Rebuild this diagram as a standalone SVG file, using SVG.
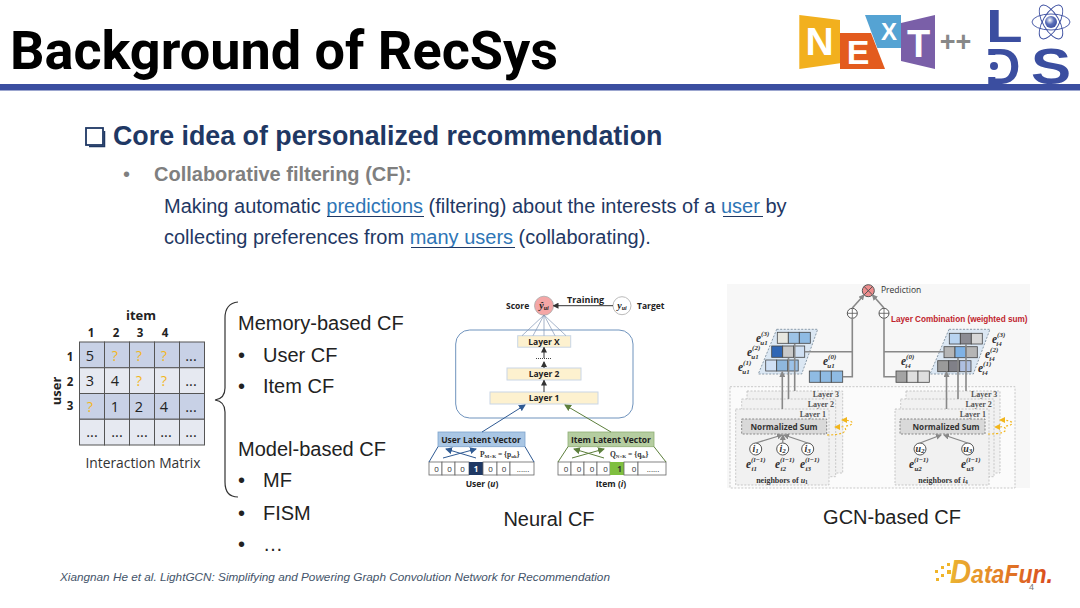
<svg xmlns="http://www.w3.org/2000/svg" width="1080" height="608" viewBox="0 0 1080 608">
<style>
text{font-family:"Liberation Sans",Arial,sans-serif;fill:#222}
.bar{fill:#3b4ea0}
.body{font-size:20px;fill:#1f3864}
.lnk{fill:#2e75b6}
.ul{stroke:#1f3864;stroke-width:1.2}
.cf{font-size:20px;fill:#222}
.cap{font-size:20px;fill:#222}
.m{font-family:"Open Sans",sans-serif;font-size:14.5px;text-anchor:middle;fill:#222}
.mb{font-family:"Open Sans",sans-serif;font-size:11.5px;font-weight:700;text-anchor:middle;fill:#222}
.dk{fill:#c8d1e6;stroke:#555;stroke-width:1}
.lt{fill:#e6e9f1;stroke:#555;stroke-width:1}
.ly{fill:#fdf1cf;stroke:#c9d6e6;stroke-width:1}
.lyt{font-family:"Open Sans",sans-serif;font-size:8.5px;font-weight:700;text-anchor:middle;fill:#222}
.vc{fill:#fff;stroke:#666;stroke-width:.8}
.vt{font-family:"Open Sans",sans-serif;font-size:8px;text-anchor:middle;fill:#333}
.blue{stroke:#2f5a93;stroke-width:1;fill:none}
.grn{stroke:#5d7f3c;stroke-width:1;fill:none}
.fan{stroke:#7f93b3;stroke-width:.7;fill:none}
.g{stroke:#888;stroke-width:1.6;fill:none}
.gt{stroke:#888;stroke-width:1.3;fill:none}
.sheet{fill:#f1f1f1;stroke:#bbb;stroke-width:.8;stroke-dasharray:2 1.5}
.ns{fill:#d9d9d9;stroke:#888;stroke-width:1;stroke-dasharray:2 1.5}
.cell{stroke:#444;stroke-width:.8}
.par{stroke:#8a9aa8;stroke-width:1;stroke-dasharray:2 1.5;fill:#dbe7f3}
.oc{fill:#fff;stroke:#555;stroke-width:1}
.y{stroke:#f2b61e;stroke-width:1.2;stroke-dasharray:2 2;fill:none}
.em{font-family:"Liberation Serif",serif;font-weight:700;font-style:italic;font-size:11.5px;fill:#333}
.em tspan{font-size:7px}
.gl{font-family:"Liberation Serif",serif;font-size:8px;font-weight:700;fill:#555;text-anchor:end}
.ns-t{font-family:"Open Sans",sans-serif;font-size:9px;font-weight:700;text-anchor:middle;fill:#333}
.logo{fill:#3b4ea0;font-weight:700}
.wl{fill:#fff;font-weight:700;text-anchor:middle}
</style>
<defs>
<marker id="abk" markerWidth="6" markerHeight="6" refX="5" refY="3" orient="auto" markerUnits="userSpaceOnUse"><path d="M0 0L6 3L0 6z" fill="#333"/></marker>
<marker id="abl" markerWidth="7" markerHeight="7" refX="6" refY="3.5" orient="auto" markerUnits="userSpaceOnUse"><path d="M0 0L7 3.5L0 7z" fill="#2f5a93"/></marker>
<marker id="agr" markerWidth="7" markerHeight="7" refX="6" refY="3.5" orient="auto" markerUnits="userSpaceOnUse"><path d="M0 0L7 3.5L0 7z" fill="#5d7f3c"/></marker>
<marker id="agy" markerWidth="6" markerHeight="6" refX="5" refY="3" orient="auto" markerUnits="userSpaceOnUse"><path d="M0 0L6 3L0 6z" fill="#888"/></marker>
<marker id="ayl" markerWidth="6" markerHeight="6" refX="5" refY="3" orient="auto" markerUnits="userSpaceOnUse"><path d="M0 0L6 3L0 6z" fill="#f2b61e"/></marker>
<linearGradient id="df" x1="0" x2="1" y1="0" y2="0"><stop offset="0" stop-color="#ecb431"/><stop offset="1" stop-color="#d9481e"/></linearGradient>
<radialGradient id="at" cx=".4" cy=".35" r=".7"><stop offset="0" stop-color="#fff"/><stop offset=".5" stop-color="#5a6fb8"/><stop offset="1" stop-color="#3b4ea0"/></radialGradient>
</defs>
<rect width="1080" height="608" fill="#fff"/>

<g id="header">
<text x="10" y="69" font-size="53" font-weight="700" textLength="548" lengthAdjust="spacingAndGlyphs" style="font-family:Roboto,sans-serif;fill:#000">Background of RecSys</text>
<rect class="bar" x="0" y="84" width="1080" height="6.5"/>
</g>

<g id="logo-next">
<polygon points="799.3,15 840,20 840,63.3 799.3,69" fill="#f2b01e"/>
<polygon points="840,33 871,33 885,69 840,69" fill="#e35b1e"/>
<polygon points="865,15 901,15 901,48 877.3,48" fill="#55a3d3"/>
<polygon points="901,23 935,15 935,69 901,61" fill="#7a5fa8"/>
<text class="wl" x="819.500" y="55" font-size="39" style="fill:#fff">N</text>
<text class="wl" x="858" y="64" font-size="34" style="fill:#fff">E</text>
<text class="wl" x="889" y="40" font-size="24" style="fill:#fff">X</text>
<text class="wl" x="918.500" y="57" font-size="38" style="fill:#fff">T</text>
<text x="955.500" y="51" font-size="27" font-weight="700" text-anchor="middle" style="fill:#888">++</text>
</g>

<g id="logo-lds">
<text class="logo" transform="translate(986 42) scale(1.25 .955)" font-size="48" style="fill:#3b4ea0">L</text>
<text class="logo" transform="translate(985 84) scale(1.02 1.05)" font-size="48" style="fill:#3b4ea0">D</text>
<rect x="985" y="55" width="13" height="22" fill="#fff"/>
<circle cx="994" cy="66" r="4" fill="#3b4ea0"/>
<text class="logo" transform="translate(1031 83.500) scale(1.25 1.03)" font-size="48" style="fill:#3b4ea0">S</text>
<g fill="none" stroke="#3b4ea0" stroke-width=".9">
<ellipse cx="1051" cy="22" rx="19" ry="8"/>
<ellipse cx="1051" cy="22" rx="19" ry="8" transform="rotate(60 1051 22)"/>
<ellipse cx="1051" cy="22" rx="19" ry="8" transform="rotate(120 1051 22)"/>
</g>
<circle cx="1051" cy="22" r="6" fill="url(#at)"/>
</g>

<g id="core-text">
<rect x="86" y="128" width="17" height="17" fill="none" stroke="#1f3864" stroke-width="1.8"/>
<path d="M104.500 131V146.500H89" fill="none" stroke="#1f3864" stroke-width="1.500"/>
<text x="113" y="145" font-size="26.800" font-weight="700" style="fill:#1f3864">Core idea of personalized recommendation</text>
<text x="123" y="181" font-size="20" style="fill:#7f7f7f">•</text>
<text x="154" y="181" font-size="20" font-weight="700" style="fill:#7f7f7f">Collaborative filtering (CF):</text>
<text class="body" x="164" y="213">Making automatic <tspan class="lnk">predictions</tspan> (filtering) about the interests of a <tspan class="lnk">user</tspan> by</text>
<text class="body" x="164" y="244">collecting preferences from <tspan class="lnk">many users</tspan> (collaborating).</text>
<line class="ul" x1="327" y1="216.500" x2="424" y2="216.500"/>
<line class="ul" x1="723" y1="216.500" x2="763" y2="216.500"/>
<line class="ul" x1="411" y1="247.500" x2="515" y2="247.500"/>
</g>

<g id="interaction-matrix">
<g>
<rect class="dk" x="79.500" y="342" width="25" height="25.750"/><rect class="dk" x="104.500" y="342" width="25" height="25.750"/><rect class="dk" x="129.500" y="342" width="25" height="25.750"/><rect class="dk" x="154.500" y="342" width="25" height="25.750"/><rect class="dk" x="179.500" y="342" width="25" height="25.750"/>
<rect class="lt" x="79.500" y="367.750" width="25" height="25.750"/><rect class="lt" x="104.500" y="367.750" width="25" height="25.750"/><rect class="lt" x="129.500" y="367.750" width="25" height="25.750"/><rect class="lt" x="154.500" y="367.750" width="25" height="25.750"/><rect class="lt" x="179.500" y="367.750" width="25" height="25.750"/>
<rect class="dk" x="79.500" y="393.500" width="25" height="25.750"/><rect class="dk" x="104.500" y="393.500" width="25" height="25.750"/><rect class="dk" x="129.500" y="393.500" width="25" height="25.750"/><rect class="dk" x="154.500" y="393.500" width="25" height="25.750"/><rect class="dk" x="179.500" y="393.500" width="25" height="25.750"/>
<rect class="lt" x="79.500" y="419.250" width="25" height="25.750"/><rect class="lt" x="104.500" y="419.250" width="25" height="25.750"/><rect class="lt" x="129.500" y="419.250" width="25" height="25.750"/><rect class="lt" x="154.500" y="419.250" width="25" height="25.750"/><rect class="lt" x="179.500" y="419.250" width="25" height="25.750"/>
</g>
<text class="mb" x="141" y="320" style="font-size:13px">item</text>
<text class="mb" x="91" y="337">1</text><text class="mb" x="116" y="337">2</text><text class="mb" x="140" y="337">3</text><text class="mb" x="165" y="337">4</text>
<text class="mb" x="70" y="361">1</text><text class="mb" x="70" y="386">2</text><text class="mb" x="70" y="410">3</text>
<text class="mb" x="61" y="391" transform="rotate(-90 61 391)" style="font-size:13px">user</text>
<text class="m" x="90" y="361">5</text><text class="m" x="115" y="361" style="fill:#f2b61e">?</text><text class="m" x="139" y="361" style="fill:#f2b61e">?</text><text class="m" x="164" y="361" style="fill:#f2b61e">?</text><text class="m" x="191" y="361">...</text>
<text class="m" x="90" y="386">3</text><text class="m" x="115" y="386">4</text><text class="m" x="139" y="386" style="fill:#f2b61e">?</text><text class="m" x="164" y="386" style="fill:#f2b61e">?</text><text class="m" x="191" y="386">...</text>
<text class="m" x="90" y="412" style="fill:#f2b61e">?</text><text class="m" x="115" y="412">1</text><text class="m" x="139" y="412">2</text><text class="m" x="164" y="412">4</text><text class="m" x="191" y="412">...</text>
<text class="m" x="92" y="437">...</text><text class="m" x="117" y="437">...</text><text class="m" x="142" y="437">...</text><text class="m" x="166" y="437">...</text><text class="m" x="191" y="437">...</text>
<text x="143" y="468" text-anchor="middle" font-size="13.800" style="font-family:'Open Sans',sans-serif;fill:#333">Interaction Matrix</text>
</g>

<g id="cf-taxonomy">
<path d="M238 302C229 303 225 308 225 318V388C225 395 222 399 215 400C222 401 225 405 225 412V482C225 492 229 497 238 497" fill="none" stroke="#333" stroke-width="1.200"/>
<text class="cf" x="238" y="330">Memory-based CF</text>
<text class="cf" x="238" y="362">•</text><text class="cf" x="263" y="362">User CF</text>
<text class="cf" x="238" y="393">•</text><text class="cf" x="263" y="393">Item CF</text>
<text class="cf" x="238" y="456">Model-based CF</text>
<text class="cf" x="238" y="487">•</text><text class="cf" x="263" y="487">MF</text>
<text class="cf" x="238" y="520">•</text><text class="cf" x="263" y="520">FISM</text>
<text class="cf" x="238" y="551">•</text><text class="cf" x="263" y="551">…</text>
</g>

<g id="neural-cf">
<g id="ncf-score"><circle cx="544" cy="305.700" r="9.500" fill="#f4a6a6" stroke="#aaa" stroke-width=".8"/>
<text x="544" y="309" font-size="10" text-anchor="middle" style="font-family:'Liberation Serif',serif;font-weight:700;font-style:italic;fill:#222">ŷ<tspan font-size="6" dy="1">ui</tspan></text>
<text x="506" y="309" font-size="8.500" font-weight="700" style="font-family:'Open Sans',sans-serif">Score</text>
<text x="567" y="303" font-size="9" font-weight="700" style="font-family:'Open Sans',sans-serif">Training</text></g>
<g id="ncf-target"><circle cx="622" cy="305.700" r="9" fill="#fff" stroke="#bbb"/>
<text x="622" y="309" font-size="10" text-anchor="middle" style="font-family:'Liberation Serif',serif;font-weight:700;font-style:italic;fill:#222">y<tspan font-size="6" dy="1">ui</tspan></text>
<text x="637" y="309" font-size="8.500" font-weight="700" style="font-family:'Open Sans',sans-serif">Target</text></g>
<rect x="455.700" y="330" width="177.300" height="88" rx="14" fill="none" stroke="#6f93bd" stroke-width="1"/>
<g id="ncf-layerx"><rect class="ly" x="517.700" y="335.700" width="53" height="11.500"/><text class="lyt" x="544" y="344.500">Layer X</text></g>
<line x1="536" y1="358.500" x2="552" y2="358.500" stroke="#444" stroke-dasharray="1 1"/>
<g id="ncf-layer2"><rect class="ly" x="507" y="368" width="74" height="12"/><text class="lyt" x="544" y="377">Layer 2</text></g>
<g id="ncf-layer1"><rect class="ly" x="490" y="392" width="108" height="12"/><text class="lyt" x="544" y="401">Layer 1</text></g>
<g id="ncf-user-latent"><rect x="438" y="432" width="87" height="14.700" fill="#a9c6e4" stroke="#7ea3cc" stroke-width=".8"/><text class="lyt" x="481" y="442.500">User Latent Vector</text>
<text x="480" y="457" font-size="7.500" style="font-family:'Liberation Serif',serif;font-weight:700;fill:#333">P<tspan font-size="5" dy="1">M×K</tspan><tspan dy="-1"> = {p</tspan><tspan font-size="5" dy="1">uk</tspan><tspan dy="-1">}</tspan></text></g>
<g id="ncf-user-vector">
<rect class="vc" x="429" y="462" width="13" height="13"/><rect class="vc" x="442" y="462" width="13" height="13"/><rect class="vc" x="455" y="462" width="14" height="13"/><rect x="469" y="462" width="14" height="13" fill="#1f3864"/><rect class="vc" x="483" y="462" width="14" height="13"/><rect class="vc" x="497" y="462" width="13" height="13"/><rect class="vc" x="510" y="462" width="24" height="13"/>
<text class="vt" x="436.500" y="471.500">0</text><text class="vt" x="449.500" y="471.500">0</text><text class="vt" x="462.500" y="471.500">0</text><text class="vt" x="476" y="471.500" style="fill:#fff;font-weight:700">1</text><text class="vt" x="490.500" y="471.500">0</text><text class="vt" x="504" y="471.500">0</text><text class="vt" x="523" y="471.500">......</text>
<text class="lyt" x="482" y="487">User (<tspan font-style="italic">u</tspan>)</text></g>
<g id="ncf-item-latent"><rect x="568" y="432" width="86" height="14.700" fill="#b5cda0" stroke="#8fae74" stroke-width=".8"/><text class="lyt" x="611" y="442.500">Item Latent Vector</text>
<text x="610" y="457" font-size="7.500" style="font-family:'Liberation Serif',serif;font-weight:700;fill:#333">Q<tspan font-size="5" dy="1">N×K</tspan><tspan dy="-1"> = {q</tspan><tspan font-size="5" dy="1">ik</tspan><tspan dy="-1">}</tspan></text></g>
<g id="ncf-item-vector">
<rect class="vc" x="558" y="462" width="13" height="13"/><rect class="vc" x="571" y="462" width="13" height="13"/><rect class="vc" x="584" y="462" width="13" height="13"/><rect class="vc" x="597" y="462" width="13" height="13"/><rect x="610" y="462" width="14" height="13" fill="#7fbf3f"/><rect class="vc" x="624" y="462" width="14" height="13"/><rect class="vc" x="638" y="462" width="28" height="13"/>
<text class="vt" x="566" y="471.500">0</text><text class="vt" x="579" y="471.500">0</text><text class="vt" x="592" y="471.500">0</text><text class="vt" x="605.500" y="471.500">0</text><text class="vt" x="619.500" y="471.500" style="font-weight:700">1</text><text class="vt" x="634" y="471.500">0</text><text class="vt" x="653" y="471.500">......</text>
<text class="lyt" x="611" y="487">Item (<tspan font-style="italic">i</tspan>)</text></g>
<text class="cap" x="549" y="526" text-anchor="middle">Neural CF</text>
</g>

<g id="gcn-cf">
<rect x="727" y="284" width="303" height="204" fill="#f7f7f7"/>
<rect x="730" y="386.700" width="285" height="101.300" fill="#fbfbfb" stroke="#bbb" stroke-width=".8" stroke-dasharray="2 1.500"/>
<g id="gcn-stack-left">
<rect class="sheet" x="747" y="391" width="95.700" height="82"/>
<rect class="sheet" x="741.700" y="399" width="94" height="77.700"/>
<rect class="sheet" x="735.700" y="409" width="93.300" height="76"/>
<text class="gl" x="839" y="397">Layer 3</text><text class="gl" x="834" y="406.700">Layer 2</text><text class="gl" x="826" y="416.700">Layer 1</text>
<rect class="ns" x="741.700" y="419" width="85" height="15"/>
<text class="ns-t" x="784" y="430" textLength="67" lengthAdjust="spacingAndGlyphs">Normalized Sum</text>
<circle class="oc" cx="755.700" cy="449" r="6"/><circle class="oc" cx="782.700" cy="449" r="6"/><circle class="oc" cx="807.700" cy="449" r="6"/>
<text class="em" x="755.700" y="452" text-anchor="middle" style="font-size:10px">i<tspan dy="1">1</tspan></text><text class="em" x="782.700" y="452" text-anchor="middle" style="font-size:10px">i<tspan dy="1">2</tspan></text><text class="em" x="807.700" y="452" text-anchor="middle" style="font-size:10px">i<tspan dy="1">3</tspan></text>
<text class="em" x="746" y="468">e<tspan dy="-6">(l−1)</tspan><tspan dx="-14" dy="9">i1</tspan></text>
<text class="em" x="775" y="468">e<tspan dy="-6">(l−1)</tspan><tspan dx="-14" dy="9">i2</tspan></text>
<text class="em" x="800" y="468">e<tspan dy="-6">(l−1)</tspan><tspan dx="-14" dy="9">i3</tspan></text>
<text x="782" y="483" font-size="8" text-anchor="middle" style="font-family:'Liberation Serif',serif;font-weight:700;fill:#333">neighbors of <tspan font-style="italic">u</tspan><tspan font-size="5.500" dy="1">1</tspan></text>
</g>
<g id="gcn-stack-right">
<rect class="sheet" x="906" y="391" width="94" height="82"/>
<rect class="sheet" x="900.700" y="399" width="93.300" height="77.700"/>
<rect class="sheet" x="895" y="409" width="94" height="76"/>
<text class="gl" x="997.300" y="397">Layer 3</text><text class="gl" x="991.700" y="406.700">Layer 2</text><text class="gl" x="986" y="416.700">Layer 1</text>
<rect class="ns" x="900" y="419" width="85" height="15"/>
<text class="ns-t" x="946" y="430" textLength="67" lengthAdjust="spacingAndGlyphs">Normalized Sum</text>
<circle class="oc" cx="920" cy="449" r="6"/><circle class="oc" cx="967.700" cy="449" r="6"/>
<text class="em" x="920" y="452" text-anchor="middle" style="font-size:10px">u<tspan dy="1">2</tspan></text><text class="em" x="967.700" y="452" text-anchor="middle" style="font-size:10px">u<tspan dy="1">3</tspan></text>
<text class="em" x="909" y="468">e<tspan dy="-6">(l−1)</tspan><tspan dx="-14" dy="9">u2</tspan></text>
<text class="em" x="961" y="468">e<tspan dy="-6">(l−1)</tspan><tspan dx="-14" dy="9">u3</tspan></text>
<text x="943" y="483" font-size="8" text-anchor="middle" style="font-family:'Liberation Serif',serif;font-weight:700;fill:#333">neighbors of <tspan font-style="italic">i</tspan><tspan font-size="5.500" dy="1">4</tspan></text>
</g>
<g id="gcn-feedback">
<path class="y" d="M827 435C840 435 848 432 845 428C843 426 840 427 835 427" marker-end="url(#ayl)"/>
<path class="y" d="M846 426C855 425 855 420 842 420" marker-end="url(#ayl)"/>
<path class="y" d="M988 434C1000 434 1008 432 1005 428C1003 426 1000 427 995 427" marker-end="url(#ayl)"/>
<path class="y" d="M1006 426C1015 425 1015 420 1000 420" marker-end="url(#ayl)"/>
</g>
<g id="gcn-embed-left">
<polygon class="par" points="776.700,329.300 817.700,329.300 801.700,374 758.300,374"/>
<g class="cell"><rect x="777.300" y="332.300" width="11" height="11" fill="#e7e7e0"/><rect x="788.300" y="332.300" width="11" height="11" fill="#9dc3e6"/><rect x="799.300" y="332.300" width="11" height="11" fill="#8fbbe3"/>
<rect x="771.700" y="346" width="11" height="11.300" fill="#2f66b5"/><rect x="782.700" y="346" width="11" height="11.300" fill="#c9c9c9"/><rect x="793.700" y="346" width="11" height="11.300" fill="#cfdff2"/>
<rect x="765.700" y="360" width="11" height="11" fill="#cfe0f5"/><rect x="776.700" y="360" width="11" height="11" fill="#8fb8de"/><rect x="787.700" y="360" width="10.500" height="11" fill="#9cc2e8"/></g>
<text class="em" x="756" y="342">e<tspan dy="-6">(3)</tspan><tspan dx="-9" dy="9">u1</tspan></text>
<text class="em" x="747" y="356">e<tspan dy="-6">(2)</tspan><tspan dx="-9" dy="9">u1</tspan></text>
<text class="em" x="738" y="371">e<tspan dy="-6">(1)</tspan><tspan dx="-9" dy="9">u1</tspan></text>
</g>
<g id="gcn-e0-left">
<g class="cell"><rect x="809.300" y="371" width="11" height="11.300" fill="#8fbbe3"/><rect x="820.300" y="371" width="11" height="11.300" fill="#8fbbe3"/><rect x="831.300" y="371" width="11.400" height="11.300" fill="#8fbbe3"/></g>
<text class="em" x="823" y="365">e<tspan dy="-6">(0)</tspan><tspan dx="-9" dy="9">u1</tspan></text>
</g>
<g id="gcn-embed-right">
<polygon class="par" points="949,329.300 990,329.300 973.300,374 930,374"/>
<g class="cell"><rect x="949.300" y="333.300" width="11" height="10.700" fill="#b8d3f0"/><rect x="960.300" y="333.300" width="11" height="10.700" fill="#8c8c94"/><rect x="971.300" y="333.300" width="11" height="10.700" fill="#d7d7d7"/>
<rect x="944" y="346.700" width="11" height="11" fill="#b5b5b5"/><rect x="955" y="346.700" width="11" height="11" fill="#7fb2e5"/><rect x="966" y="346.700" width="11.300" height="11" fill="#b5b5b5"/>
<rect x="937.700" y="360.700" width="11" height="11" fill="#9a9a9a"/><rect x="948.700" y="360.700" width="11" height="11" fill="#808088"/><rect x="959.700" y="360.700" width="11.300" height="11" fill="#aebfe0"/></g>
<text class="em" x="992" y="343">e<tspan dy="-6">(3)</tspan><tspan dx="-9" dy="9">i4</tspan></text>
<text class="em" x="985" y="358">e<tspan dy="-6">(2)</tspan><tspan dx="-9" dy="9">i4</tspan></text>
<text class="em" x="978" y="372">e<tspan dy="-6">(1)</tspan><tspan dx="-9" dy="9">i4</tspan></text>
</g>
<g id="gcn-e0-right">
<g class="cell"><rect x="896" y="371" width="11" height="11.300" fill="#a3a3a3"/><rect x="907" y="371" width="11" height="11.300" fill="#dedede"/><rect x="918" y="371" width="11.300" height="11.300" fill="#dedede"/></g>
<text class="em" x="901" y="365">e<tspan dy="-6">(0)</tspan><tspan dx="-9" dy="9">i4</tspan></text>
</g>
<g id="gcn-prediction">
<circle cx="868.300" cy="290.700" r="6" fill="#ee8d8d" stroke="#555"/>
<path d="M864 286.400L872.600 295M872.600 286.400L864 295" stroke="#555" stroke-width="1"/>
<text x="881" y="293" font-size="8.500" style="font-family:'Open Sans',sans-serif;fill:#333">Prediction</text>
</g>
<g id="gcn-plus-left"><circle class="oc" cx="852.300" cy="313.300" r="5"/><path d="M847.300 313.300H857.300M852.300 308.300V318.300" stroke="#555" stroke-width=".8"/></g>
<g id="gcn-plus-right"><circle class="oc" cx="884" cy="313.300" r="5"/><path d="M879 313.300H889M884 308.300V318.300" stroke="#555" stroke-width=".8"/></g>
<text x="891" y="322" font-size="8.200" font-weight="700" style="fill:#c0232c">Layer Combination (weighted sum)</text>
<text class="cap" x="892" y="524" text-anchor="middle">GCN-based CF</text>
</g>

<g id="connectors">
<line class="fan" x1="544" y1="315" x2="522" y2="335.700"/>
<line class="fan" x1="544" y1="315" x2="533" y2="335.700"/>
<line class="fan" x1="544" y1="315" x2="544" y2="335.700"/>
<line class="fan" x1="544" y1="315" x2="555" y2="335.700"/>
<line class="fan" x1="544" y1="315" x2="566" y2="335.700"/>
<line x1="613" y1="305.700" x2="553.500" y2="305.700" stroke="#333" marker-end="url(#abk)"/>
<line x1="544" y1="358" x2="544" y2="347.500" stroke="#333" marker-end="url(#abk)"/>
<line x1="544" y1="368" x2="544" y2="362" stroke="#333" marker-end="url(#abk)"/>
<line x1="544" y1="392" x2="544" y2="380.500" stroke="#333" marker-end="url(#abk)"/>
<line class="blue" x1="482" y1="432" x2="525" y2="405" marker-end="url(#abl)"/>
<line class="grn" x1="611" y1="432" x2="565" y2="405" marker-end="url(#agr)"/>
<line class="blue" x1="443" y1="458" x2="476" y2="449" marker-end="url(#abl)"/>
<line class="blue" x1="476" y1="458" x2="446" y2="449" marker-end="url(#abl)"/>
<line class="grn" x1="572" y1="458" x2="604" y2="449" marker-end="url(#agr)"/>
<line class="grn" x1="604" y1="458" x2="574" y2="449" marker-end="url(#agr)"/>
<path class="blue" d="M438 446.700L429 462M525 446.700L534 462"/>
<path class="grn" d="M568 446.700L558 462M654 446.700L666 462"/>
<path class="g" d="M852.300 318.500V376.700H842.700M852.300 351.700H805"/>
<path class="g" d="M884 318.500V376.700H896M884 351.700H944"/>
<line class="g" x1="852.300" y1="308" x2="864" y2="295" marker-end="url(#agy)"/>
<line class="g" x1="884" y1="308" x2="872.500" y2="295" marker-end="url(#agy)"/>
<line class="g" x1="782.300" y1="409" x2="782.300" y2="372" marker-end="url(#agy)"/>
<line class="g" x1="788.500" y1="399" x2="788.500" y2="358"/>
<line class="g" x1="794.700" y1="391" x2="794.700" y2="344"/>
<line class="g" x1="946.500" y1="409" x2="946.500" y2="372" marker-end="url(#agy)"/>
<line class="g" x1="958" y1="399" x2="958" y2="358"/>
<line class="g" x1="966" y1="391" x2="966" y2="344"/>
<line class="gt" x1="755.700" y1="443" x2="782" y2="435" marker-end="url(#agy)"/>
<line class="gt" x1="782.700" y1="443" x2="783" y2="435" marker-end="url(#agy)"/>
<line class="gt" x1="807.700" y1="443" x2="784" y2="435" marker-end="url(#agy)"/>
<line class="gt" x1="920" y1="443" x2="941" y2="435" marker-end="url(#agy)"/>
<line class="gt" x1="967.700" y1="443" x2="944" y2="435" marker-end="url(#agy)"/>
</g>

<g id="footer">
<text x="60" y="581" font-size="11.750" font-style="italic" style="fill:#44546a">Xiangnan He et al. LightGCN: Simplifying and Powering Graph Convolution Network for Recommendation</text>
<g fill="#f0b429"><rect x="935" y="570" width="3" height="3"/><rect x="941" y="566" width="3" height="3"/><rect x="941" y="574" width="3" height="3"/><rect x="947" y="570" width="4" height="4"/><rect x="947" y="563" width="3" height="3"/><rect x="936" y="578" width="3" height="3"/></g>
<text x="950" y="583" font-size="26" font-weight="700" font-style="italic" textLength="103" lengthAdjust="spacingAndGlyphs" style="fill:url(#df)"><tspan font-size="33">D</tspan>ataFun.</text>
<text x="1029" y="590" font-size="9" style="fill:#777">4</text>
</g>
</svg>
